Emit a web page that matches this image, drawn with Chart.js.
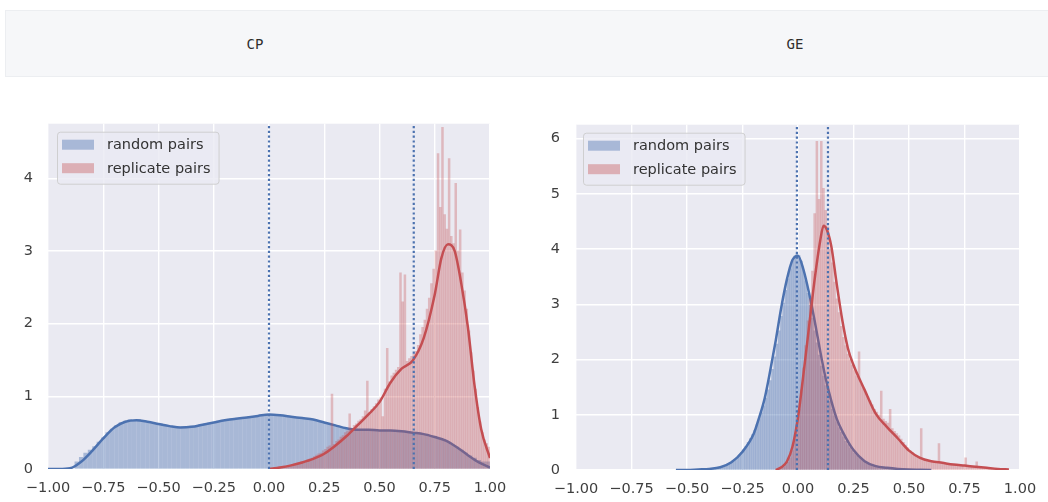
<!DOCTYPE html>
<html>
<head>
<meta charset="utf-8">
<script src="https://cdn.jsdelivr.net/npm/chart.js@4.4.0/dist/chart.umd.min.js"></script>
<style>
  body { margin: 0; background: #fff; width: 1048px; height: 502px; overflow: hidden; position: relative; }
  #header { position: absolute; left: 5px; top: 10px; width: 1043px; height: 67px; background: #f6f7f9;
            border: 1px solid #eceef1; border-right: none; box-sizing: border-box; }
  .title { position: absolute; top: 44px; transform: translate(-50%, -50%);
           font-family: 'DejaVu Sans Mono', monospace; font-size: 14px; color: #2e2e2e; }
  canvas { position: absolute; top: 100px; }
</style>
</head>
<body>
<div id="header"></div>
<div class="title" style="left:255px">CP</div>
<div class="title" style="left:795px">GE</div>
<canvas id="cpChart" width="520" height="402" style="left:0px"></canvas>
<canvas id="geChart" width="524" height="402" style="left:524px"></canvas>

<script>
// ---- data ----
const seriesLabels = ['random pairs', 'replicate pairs'];

const xTickValues = [-1, -0.75, -0.5, -0.25, 0, 0.25, 0.5, 0.75, 1];
const xTickLabels = ['\u22121.00', '\u22120.75', '\u22120.50', '\u22120.25', '0.00', '0.25', '0.50', '0.75', '1.00'];
const cpYTicks = [0, 1, 2, 3, 4];
const geYTicks = [0, 1, 2, 3, 4, 5, 6];

// CP random pairs: bins of 0.02 starting at -0.88
const cpRandomStart = -0.88;
const cpRandomBin = 0.02;
const cpRandomHist = [
  0.10, 0.16, 0.22, 0.26, 0.31, 0.37, 0.43, 0.50, 0.55, 0.60,
  0.64, 0.66, 0.68, 0.67, 0.68, 0.66, 0.65, 0.64, 0.62, 0.62,
  0.60, 0.59, 0.58, 0.57, 0.58, 0.57, 0.59, 0.59, 0.61, 0.62,
  0.63, 0.64, 0.66, 0.67, 0.67, 0.69, 0.69, 0.70, 0.71, 0.72,
  0.72, 0.73, 0.74, 0.75,
  0.75, 0.74, 0.74, 0.73, 0.72, 0.72, 0.71, 0.70, 0.69, 0.68,
  0.67, 0.66, 0.64, 0.62, 0.61, 0.59, 0.57, 0.56, 0.55, 0.54,
  0.54, 0.54, 0.54, 0.53, 0.53, 0.53, 0.53, 0.53, 0.52, 0.52,
  0.51, 0.51, 0.50, 0.50, 0.49, 0.48, 0.46, 0.45, 0.42, 0.40,
  0.37, 0.33, 0.30, 0.26, 0.22, 0.18, 0.15, 0.12, 0.10, 0.10
];
// CP replicate pairs: bins of 0.01 starting at 0
const cpReplicateStart = 0.0;
const cpReplicateBin = 0.01;
const cpReplicateHist = [
  0.01, 0.01, 0.02, 0.02, 0.03, 0.03, 0.04, 0.04, 0.05, 0.05,
  0.06, 0.07, 0.08, 0.09, 0.10, 0.10, 0.11, 0.13, 0.14, 0.15,
  0.17, 0.19, 0.21, 0.22, 0.25, 0.27, 0.30, 0.32, 1.03, 0.34,
  0.38, 0.40, 0.44, 0.46, 0.50, 0.52, 0.76, 0.56, 0.60, 0.62,
  0.66, 0.68, 0.72, 0.80, 1.21, 0.78, 0.82, 0.86, 0.90, 0.95,
  0.98, 0.72, 1.10, 1.66, 1.20, 1.28, 1.32, 1.36, 1.40, 2.70,
  2.30, 2.67, 1.48, 1.52, 1.55, 1.58, 1.62, 1.70, 1.85, 1.95,
  2.05, 2.20, 2.35, 2.55, 2.75, 3.00, 4.34, 3.60, 4.70, 3.50,
  3.30, 4.27, 3.20, 3.10, 3.93, 3.00, 3.29, 2.70, 2.45, 2.20,
  1.90, 1.60, 1.35, 1.10, 0.85, 0.65, 0.50, 0.40, 0.35, 0.30
];

// CP kde curves
const cpRandomKdeX = [-1, -0.95, -0.9, -0.85, -0.8, -0.75, -0.7, -0.65, -0.6, -0.55, -0.5, -0.45, -0.4, -0.35,
  -0.3, -0.25, -0.2, -0.15, -0.1, -0.05, 0, 0.05, 0.1, 0.15, 0.2, 0.25, 0.3, 0.35, 0.4, 0.45, 0.5, 0.55,
  0.6, 0.65, 0.7, 0.75, 0.8, 0.85, 0.9, 0.95, 1.0];
const cpRandomKdeY = [0, 0, 0.01, 0.10, 0.25, 0.42, 0.57, 0.65, 0.67, 0.65, 0.62, 0.59, 0.57, 0.58,
  0.61, 0.64, 0.67, 0.69, 0.71, 0.73, 0.75, 0.74, 0.72, 0.70, 0.68, 0.64, 0.60, 0.56, 0.54, 0.54, 0.53, 0.53,
  0.52, 0.50, 0.48, 0.44, 0.39, 0.30, 0.19, 0.09, 0.02];
const cpReplicateKdeX = [0, 0.05, 0.1, 0.15, 0.2, 0.25, 0.3, 0.35, 0.4, 0.45, 0.5, 0.55, 0.6, 0.65, 0.7,
  0.75, 0.78, 0.81, 0.84, 0.87, 0.9, 0.93, 0.96, 1.0];
const cpReplicateKdeY = [0, 0.02, 0.05, 0.09, 0.14, 0.21, 0.32, 0.45, 0.60, 0.75, 0.92, 1.19, 1.38, 1.49, 1.80,
  2.40, 2.90, 3.09, 3.00, 2.55, 1.95, 1.15, 0.55, 0.15];

// CP percentile markers
const cpMarkers = [0.0, 0.655];

// GE random pairs: bins of 0.01 starting at -0.5
const geRandomStart = -0.50;
const geRandomBin = 0.01;
const geRandomHist = [
  0.00, 0.00, 0.01, 0.01, 0.01, 0.01, 0.01, 0.02, 0.02, 0.02,
  0.02, 0.03, 0.03, 0.04, 0.05, 0.06, 0.07, 0.09, 0.11, 0.13,
  0.16, 0.19, 0.23, 0.27, 0.32, 0.37, 0.43, 0.50, 0.57, 0.64,
  0.72, 0.82, 0.92, 1.03, 1.16, 1.30, 1.45, 1.62, 1.82, 2.05,
  2.28, 2.52, 2.78, 3.02, 3.25, 3.46, 3.64, 3.78, 3.87, 3.91,
  3.88, 3.78, 3.62, 3.42, 3.20, 2.98, 2.75, 2.52, 2.30, 2.08,
  1.88, 1.70, 1.53, 1.38, 1.24, 1.10, 0.98, 0.87, 0.77, 0.68,
  0.60, 0.52, 0.46, 0.40, 0.35, 0.30, 0.26, 0.22, 0.19, 0.16,
  0.14, 0.12, 0.10, 0.09, 0.08, 0.07, 0.06, 0.05, 0.05, 0.04,
  0.04, 0.03, 0.03, 0.03, 0.02, 0.02, 0.02, 0.02, 0.01, 0.01,
  0.01, 0.01, 0.01, 0.01, 0.01, 0.01, 0.01, 0.01, 0.01, 0.01
];
// GE replicate pairs: bins of 0.01 starting at -0.1
const geReplicateStart = -0.10;
const geReplicateBin = 0.01;
const geReplicateHist = [
  0.01, 0.02, 0.03, 0.05, 0.08, 0.14, 0.22, 0.35, 0.55, 0.80,
  1.10, 1.45, 1.85, 2.25, 2.70, 3.10, 3.60, 4.64, 5.95, 4.90,
  5.95, 5.10, 4.70, 4.40, 4.00, 3.75, 3.40, 3.10, 2.85, 2.60,
  2.40, 2.25, 2.10, 2.00, 1.90, 1.80, 1.70, 2.14, 1.55, 1.48,
  1.40, 1.33, 1.25, 1.18, 1.10, 1.05, 1.00, 1.43, 0.92, 0.88,
  0.85, 1.10, 0.75, 0.70, 0.66, 0.62, 0.56, 0.50, 0.45, 0.40,
  0.35, 0.32, 0.28, 0.25, 0.23, 0.75, 0.20, 0.18, 0.17, 0.16,
  0.15, 0.15, 0.14, 0.48, 0.13, 0.12, 0.12, 0.11, 0.11, 0.10,
  0.10, 0.09, 0.09, 0.08, 0.08, 0.22, 0.07, 0.07, 0.06, 0.06,
  0.15, 0.05, 0.04, 0.04, 0.03, 0.03, 0.02, 0.02, 0.02, 0.01,
  0.01, 0.01, 0.01, 0.01, 0.01
];

// GE kde curves
const geRandomKdeX = [-0.55, -0.5, -0.45, -0.4, -0.35, -0.3, -0.25, -0.2, -0.175, -0.15, -0.125, -0.1, -0.075,
  -0.05, -0.025, 0, 0.025, 0.05, 0.075, 0.1, 0.125, 0.15, 0.175, 0.2, 0.25, 0.3, 0.35, 0.4, 0.45, 0.5, 0.55, 0.6];
const geRandomKdeY = [0, 0, 0.01, 0.02, 0.05, 0.14, 0.33, 0.65, 0.95, 1.30, 1.80, 2.35, 2.95,
  3.45, 3.80, 3.88, 3.62, 3.20, 2.70, 2.15, 1.65, 1.25, 0.92, 0.70, 0.36, 0.16, 0.07, 0.04, 0.02, 0.01, 0.005, 0];
const geReplicateKdeX = [-0.1, -0.075, -0.05, -0.025, 0, 0.025, 0.05, 0.075, 0.1, 0.115, 0.13, 0.15, 0.175, 0.2,
  0.225, 0.25, 0.3, 0.35, 0.4, 0.45, 0.5, 0.55, 0.6, 0.65, 0.7, 0.75, 0.8, 0.85, 0.9, 0.95];
const geReplicateKdeY = [0, 0.05, 0.15, 0.42, 0.95, 1.75, 2.60, 3.45, 4.15, 4.42, 4.35, 4.05, 3.35, 2.70,
  2.20, 1.90, 1.45, 1.02, 0.78, 0.57, 0.35, 0.22, 0.16, 0.13, 0.10, 0.08, 0.06, 0.04, 0.02, 0.01];

const geMarkers = [-0.005, 0.135];

// ---- styling ----
const BLUE = '#4c72b0';
const RED = '#c44e52';
const BLUE_FILL = 'rgba(76,114,176,0.42)';
const RED_FILL = 'rgba(196,78,82,0.32)';
const RED_PATCH = 'rgba(196,78,82,0.38)';
const PANEL_BG = '#eaeaf2';
const TICK_FONT = { family: "'DejaVu Sans', sans-serif", size: 14.5 };

// bin centres are rounded so float noise doesn't create near-duplicate x values
function histPoints(start, width, heights) {
  return heights.map((h, i) => ({ x: Math.round((start + (i + 0.5) * width) * 10000) / 10000, y: h }));
}
function curvePoints(xs, ys) {
  return xs.map((x, i) => ({ x: x, y: ys[i] }));
}

// fills the axes background like seaborn's darkgrid
const panelBackground = {
  id: 'panelBackground',
  beforeDraw(chart) {
    const { ctx, chartArea: a } = chart;
    ctx.save();
    ctx.fillStyle = PANEL_BG;
    ctx.fillRect(a.left, a.top, a.right - a.left, a.bottom - a.top);
    ctx.restore();
  }
};

// legend box in the upper-left corner of the axes
const insideLegend = {
  id: 'insideLegend',
  afterDraw(chart, args, opts) {
    const { ctx, chartArea: a } = chart;
    const x = a.left + opts.dx, y = a.top + 8;
    ctx.save();
    ctx.font = "14.5px 'DejaVu Sans', sans-serif";
    const tw = Math.max(...seriesLabels.map(s => ctx.measureText(s).width));
    const w = 50 + tw + 8, h = 52;
    ctx.beginPath();
    ctx.roundRect(x + 0.5, y + 0.5, w, h, 3);
    ctx.fillStyle = 'rgba(234,234,242,0.8)';
    ctx.fill();
    ctx.strokeStyle = 'rgba(204,204,204,0.9)';
    ctx.lineWidth = 1;
    ctx.stroke();
    const fills = [BLUE_FILL, RED_PATCH];
    ctx.textBaseline = 'middle';
    seriesLabels.forEach((s, i) => {
      const cy = y + 13 + i * 23.5;
      ctx.fillStyle = fills[i];
      ctx.fillRect(x + 5, cy - 5, 32, 10);
      ctx.fillStyle = '#333';
      ctx.fillText(s, x + 50, cy + 1);
    });
    ctx.restore();
  }
};

function buildPanel(id, p) {
  const markerSets = p.markers.map(m => ({
    type: 'line',
    data: [{ x: m, y: 0 }, { x: m, y: p.yMax }],
    borderColor: BLUE,
    borderWidth: 2.2,
    borderDash: [2.2, 2.6],
    pointRadius: 0,
    order: 1
  }));
  // bar width in px: one bin minus a thin gap
  const barPx = w => w * p.pxPerUnit * 0.84;

  new Chart(document.getElementById(id), {
    type: 'bar',
    data: {
      datasets: [
        { type: 'bar', label: seriesLabels[0], data: histPoints(p.randStart, p.randBin, p.randHist),
          backgroundColor: BLUE_FILL, barThickness: barPx(p.randBin), order: 5 },
        { type: 'line', data: curvePoints(p.randKdeX, p.randKdeY), borderColor: BLUE,
          borderWidth: 2.5, pointRadius: 0, cubicInterpolationMode: 'monotone', order: 4 },
        { type: 'bar', label: seriesLabels[1], data: histPoints(p.repStart, p.repBin, p.repHist),
          backgroundColor: RED_FILL, barThickness: barPx(p.repBin), order: 3 },
        { type: 'line', data: curvePoints(p.repKdeX, p.repKdeY), borderColor: RED,
          borderWidth: 2.5, pointRadius: 0, cubicInterpolationMode: 'monotone', order: 2 },
        ...markerSets
      ]
    },
    options: {
      responsive: false,
      animation: false,
      devicePixelRatio: 1,
      layout: { padding: { top: 20, right: p.padRight, left: 0, bottom: 0 } },
      datasets: { bar: { grouped: false } },
      plugins: {
        legend: { display: false },
        tooltip: { enabled: false },
        insideLegend: { dx: p.legendDx }
      },
      scales: {
        x: {
          type: 'linear', min: -1, max: 1, offset: false,
          afterBuildTicks: s => { s.ticks = xTickValues.map(v => ({ value: v })); },
          afterFit: s => { s.height = p.xAxisHeight; },
          ticks: { callback: (v, i) => xTickLabels[i], autoSkip: false, maxRotation: 0,
                   padding: 11, color: '#3f3f3f', font: TICK_FONT },
          grid: { color: '#ffffff', lineWidth: 1.4, drawTicks: false, offset: false },
          border: { display: false }
        },
        y: {
          min: 0, max: p.yMax,
          afterBuildTicks: s => { s.ticks = p.yTicks.map(v => ({ value: v })); },
          afterFit: s => { s.width = p.yAxisWidth; },
          ticks: { callback: v => String(v), padding: p.yPad, color: '#3f3f3f', font: TICK_FONT },
          grid: { color: '#ffffff', lineWidth: 1.4, drawTicks: false },
          border: { display: false }
        }
      }
    },
    plugins: [panelBackground, insideLegend]
  });
}

buildPanel('cpChart', {
  randStart: cpRandomStart, randBin: cpRandomBin, randHist: cpRandomHist,
  randKdeX: cpRandomKdeX, randKdeY: cpRandomKdeY,
  repStart: cpReplicateStart, repBin: cpReplicateBin, repHist: cpReplicateHist,
  repKdeX: cpReplicateKdeX, repKdeY: cpReplicateKdeY,
  markers: cpMarkers, yTicks: cpYTicks, yMax: 4.75, pxPerUnit: 221,
  yAxisWidth: 48, yPad: 15, xAxisHeight: 33, padRight: 30, legendDx: 9
});

buildPanel('geChart', {
  randStart: geRandomStart, randBin: geRandomBin, randHist: geRandomHist,
  randKdeX: geRandomKdeX, randKdeY: geRandomKdeY,
  repStart: geReplicateStart, repBin: geReplicateBin, repHist: geReplicateHist,
  repKdeX: geReplicateKdeX, repKdeY: geReplicateKdeY,
  markers: geMarkers, yTicks: geYTicks, yMax: 6.25, pxPerUnit: 222,
  yAxisWidth: 52, yPad: 16, xAxisHeight: 32, padRight: 28, legendDx: 7
});
</script>
</body>
</html>
